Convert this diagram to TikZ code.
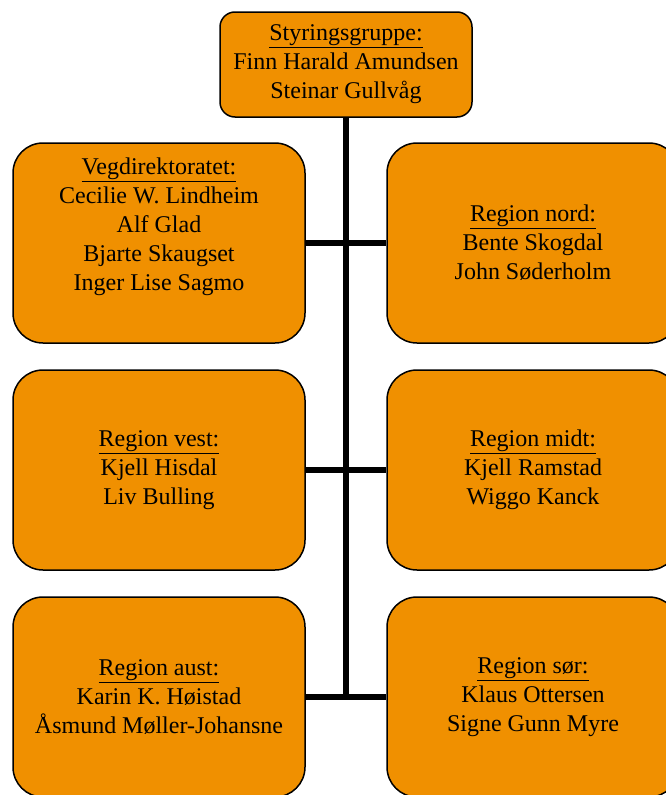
\documentclass[tikz,border=0pt]{standalone}
\usepackage{fontspec}
\setmainfont{Liberation Serif}
\usetikzlibrary{positioning}
\definecolor{boxorange}{RGB}{240,144,0}

\begin{document}
\begin{tikzpicture}[x=1pt,y=-1pt,
  orgbox/.style={draw=black, line width=1.5pt, fill=boxorange, rounded corners=30pt,
    minimum width=292pt, minimum height=200pt, align=center, inner sep=0pt,
    font=\fontsize{24}{29}\selectfont},
  topbox/.style={orgbox, rounded corners=15pt, minimum width=252pt, minimum height=105pt},
  link/.style={line width=6pt}]
\useasboundingbox (0,0) rectangle (666,795);
\clip (0,0) rectangle (666,795);
% top box
\node[topbox] (styring) at (346,64.5) {\underline{Styringsgruppe:}\\Finn Harald Amundsen\\Steinar Gullvåg};
% left column
\node[orgbox] (vegdir) at (159,243) {\underline{Vegdirektoratet:}\\Cecilie W. Lindheim\\Alf Glad\\Bjarte Skaugset\\Inger Lise Sagmo\\\strut};
\node[orgbox] (vest) at (159,470) {\underline{Region vest:}\\Kjell Hisdal\\Liv Bulling};
\node[orgbox] (aust) at (159,697) {\underline{Region aust:}\\Karin K. Høistad\\Åsmund Møller-Johansne};
% right column
\node[orgbox] (nord) at (533,243) {\underline{Region nord:}\\Bente Skogdal\\John Søderholm};
\node[orgbox] (midt) at (533,470) {\underline{Region midt:}\\Kjell Ramstad\\Wiggo Kanck};
\node[orgbox] (sor) at (533,697) {\underline{Region sør:}\\Klaus Ottersen\\Signe Gunn Myre};
% connectors
\coordinate (bunn) at (styring.south |- aust.east);
\draw[link] (styring.south) -- (bunn);
\draw[link] (vegdir) -- (nord);
\draw[link] (vest) -- (midt);
\draw[link] (aust) -- (sor);
\end{tikzpicture}
\end{document}
